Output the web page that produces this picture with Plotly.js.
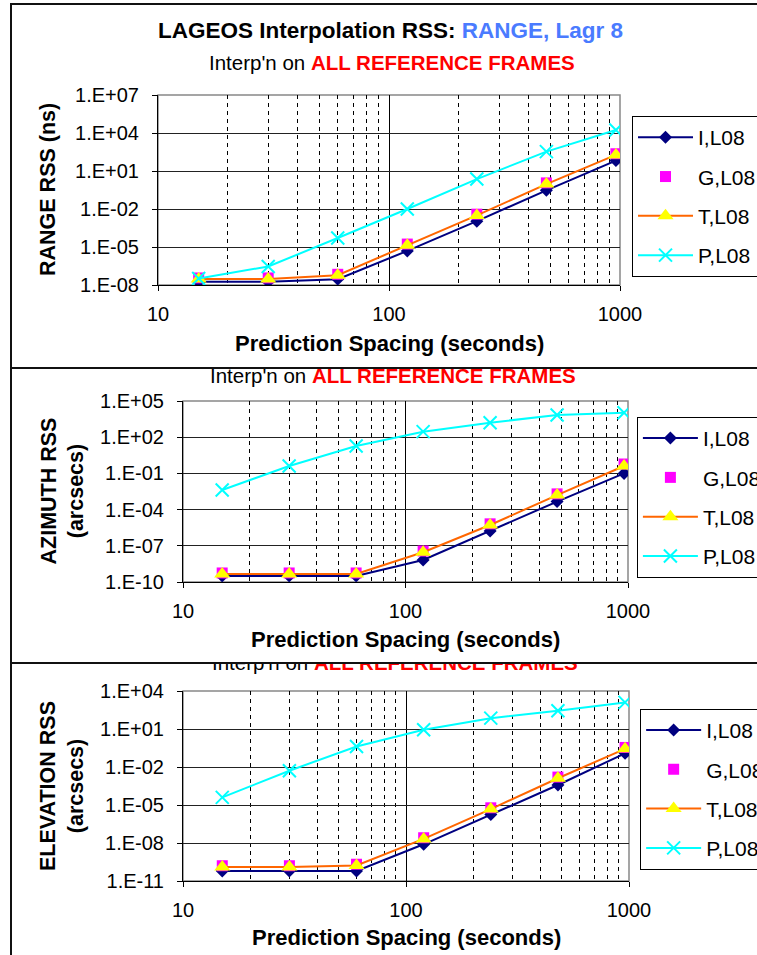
<!DOCTYPE html>
<html><head><meta charset="utf-8">
<script src="https://cdn.plot.ly/plotly-3.0.1.min.js"></script>
<style>
body{margin:0;background:#fff;width:757px;height:955px;overflow:hidden;position:relative}
.panel{position:absolute;left:0;width:757px;overflow:hidden;background:#fff}
.frame{position:absolute;left:10px;border-left:2px solid #111;border-top:2px solid #111;width:800px;height:1000px;pointer-events:none}
</style></head><body>
<div class="panel" style="top:0;height:368px"><div id="c1"></div><div class="frame" style="top:3px"></div></div>
<div class="panel" style="top:367px;height:296px"><div id="c2"></div><div class="frame" style="top:0"></div></div>
<div class="panel" style="top:662px;height:293px"><div id="c3"></div><div class="frame" style="top:0"></div></div>
<script>
// Prediction spacing (seconds)
const spacing = [15, 30, 60, 120, 240, 480, 960];
const seriesNames = ['I,L08', 'G,L08', 'T,L08', 'P,L08'];
const xTickVals = [10, 100, 1000];

// RANGE RSS (ns)
const rangeI = [1.8e-8, 1.8e-8, 2.9e-8, 4.9e-6, 1.1e-3, 0.30, 66];
const rangeG = [3.6e-8, 3.6e-8, 7.0e-8, 1.7e-5, 3.9e-3, 1.15, 230];
const rangeT = [3.0e-8, 3.0e-8, 6.0e-8, 1.4e-5, 3.1e-3, 0.93, 186];
const rangeP = [3.3e-8, 2.9e-7, 5.1e-5, 1.0e-2, 2.3, 340, 1.7e4];
const rangeTickVals = [1e-8, 1e-5, 1e-2, 1e1, 1e4, 1e7];
const rangeTickText = ['1.E-08', '1.E-05', '1.E-02', '1.E+01', '1.E+04', '1.E+07'];

// AZIMUTH RSS (arcsecs)
const azI = [3.2e-10, 3.2e-10, 3.2e-10, 6.6e-9, 1.7e-6, 4.6e-4, 0.10];
const azG = [5.6e-10, 5.6e-10, 5.6e-10, 3.7e-8, 6.6e-6, 2.0e-3, 0.60];
const azT = [4.6e-10, 4.6e-10, 4.6e-10, 2.9e-8, 5.3e-6, 1.6e-3, 0.41];
const azP = [4.2e-3, 0.41, 18.6, 288, 1600, 6900, 1.07e4];
const azTickVals = [1e-10, 1e-7, 1e-4, 1e-1, 1e2, 1e5];
const azTickText = ['1.E-10', '1.E-07', '1.E-04', '1.E-01', '1.E+02', '1.E+05'];

// ELEVATION RSS (arcsecs)
const elI = [6.2e-11, 6.2e-11, 6.2e-11, 7.9e-9, 1.8e-6, 3.8e-4, 0.12];
const elG = [1.6e-10, 1.6e-10, 2.1e-10, 2.6e-8, 6.0e-6, 1.6e-3, 0.35];
const elT = [1.3e-10, 1.3e-10, 1.7e-10, 2.1e-8, 4.8e-6, 1.3e-3, 0.27];
const elP = [4.0e-5, 5.1e-3, 0.42, 8.7, 72, 275, 1260];
const elTickVals = [1e-11, 1e-8, 1e-5, 1e-2, 1e1, 1e4];
const elTickText = ['1.E-11', '1.E-08', '1.E-05', '1.E-02', '1.E+01', '1.E+04'];

const FONT = 'Liberation Sans, Arial, sans-serif';

function traces(I, G, T, P) {
  return [
    {x: spacing, y: I, name: seriesNames[0], legendgroup: 'i', mode: 'lines+markers',
     line: {color: '#000080', width: 2}, marker: {symbol: 'diamond', size: 10, color: '#000080'}},
    {x: spacing, y: G, name: seriesNames[1], legendgroup: 'g', mode: 'markers',
     marker: {symbol: 'square', size: 11, color: '#ff00ff'}},
    {x: spacing, y: T, name: seriesNames[2], legendgroup: 't', mode: 'lines+markers',
     line: {color: '#ff6600', width: 2}, marker: {symbol: 'triangle-up', size: 14, color: '#ffff00'}},
    {x: spacing, y: P, name: seriesNames[3], legendgroup: 'p', mode: 'lines+markers',
     line: {color: '#00ffff', width: 2}, marker: {symbol: 'x-thin', size: 13, color: '#00ffff', line: {color: '#00ffff', width: 2}}}
  ];
}

function ann(text, x, y, xshift, yshift, size, angle) {
  return {text: text, xref: 'paper', yref: 'paper', x: x, y: y, xshift: xshift, yshift: yshift,
          xanchor: 'center', yanchor: 'middle', showarrow: false, textangle: angle || 0,
          font: {family: FONT, size: size, color: '#000'}};
}

function layout(o) {
  return {
    width: 757, height: o.height, paper_bgcolor: '#fff', plot_bgcolor: '#fff',
    margin: {l: o.l, r: o.r, t: o.t, b: o.b, pad: 0, autoexpand: false},
    font: {family: FONT, color: '#000'},
    showlegend: true,
    legend: {x: o.lx, y: o.ly, xanchor: 'left', yanchor: 'top', bgcolor: '#fff', bordercolor: '#000',
             borderwidth: 1, font: {family: FONT, size: 21, color: '#000'}, traceorder: 'grouped',
             tracegroupgap: 9, itemwidth: 55},
    xaxis: {type: 'log', range: [1, 3], tickmode: 'array', tickvals: xTickVals, ticktext: xTickVals.map(String),
            showline: true, linecolor: '#000', linewidth: 1, ticks: 'outside', ticklen: 5, tickcolor: '#000',
            showgrid: true, gridcolor: '#000', gridwidth: 1, zeroline: false, ticklabelstandoff: 6,
            tickfont: {family: FONT, size: 20, color: '#000'},
            minor: {dtick: 'D1', showgrid: true, gridcolor: '#000', gridwidth: 1, griddash: '4px,4px', ticks: ''}},
    yaxis: {type: 'log', range: o.yr, tickmode: 'array', tickvals: o.tv, ticktext: o.tt,
            showline: true, linecolor: '#000', linewidth: 1, ticks: 'outside', ticklen: 5, tickcolor: '#000',
            showgrid: true, gridcolor: '#222', gridwidth: 1, zeroline: false, ticklabelstandoff: 9,
            tickfont: {family: FONT, size: 20, color: '#000'}},
    shapes: [{type: 'rect', xref: 'paper', yref: 'paper', x0: 0, x1: 1, y0: 0, y1: 1, layer: 'between',
              line: {color: '#888', width: 1.5}}],
    annotations: o.ann
  };
}

const cfg = {displayModeBar: false, staticPlot: true};
const XT = '<b>Prediction Spacing (seconds)</b>';
const SUB = 'Interp\'n on <b><span style="color:#ff0000">ALL REFERENCE FRAMES</span></b>';

Plotly.newPlot('c1', traces(rangeI, rangeG, rangeT, rangeP), layout({
  height: 368, l: 158, r: 137, t: 95, b: 83, yr: [-8, 7], tv: rangeTickVals, tt: rangeTickText,
  lx: 1.026, ly: 0.889,
  ann: [
    ann('<b>LAGEOS Interpolation RSS: <span style="color:#4a7bff">RANGE, Lagr 8</span></b>', 0.503, 1, 0, 65, 22.5),
    ann(SUB, 0.507, 1, 0, 33, 20.5),
    ann(XT, 0.5, 0, 0, -58, 22),
    ann('<b>RANGE RSS (ns)</b>', 0, 0.5, -110, 0, 21.5, -90)
  ]
}), cfg);

Plotly.newPlot('c2', traces(azI, azG, azT, azP), layout({
  height: 296, l: 183, r: 129, t: 34, b: 81, yr: [-10, 5], tv: azTickVals, tt: azTickText,
  lx: 1.02, ly: 0.912,
  ann: [
    ann(SUB, 0.471, 1, 0, 26, 20.5),
    ann(XT, 0.5, 0, 0, -57, 22),
    ann('<b>AZIMUTH RSS<br>(arcsecs)</b>', 0, 0.5, -121, 0, 21.5, -90)
  ]
}), cfg);

Plotly.newPlot('c3', traces(elI, elG, elT, elP), layout({
  height: 293, l: 183, r: 128, t: 29, b: 74, yr: [-11, 4], tv: elTickVals, tt: elTickText,
  lx: 1.025, ly: 0.906,
  ann: [
    ann(SUB, 0.475, 1, 0, 28.5, 20.5),
    ann(XT, 0.5, 0, 0, -56, 22),
    ann('<b>ELEVATION RSS<br>(arcsecs)</b>', 0, 0.5, -121, 0, 21.5, -90)
  ]
}), cfg);
</script>
</body></html>
